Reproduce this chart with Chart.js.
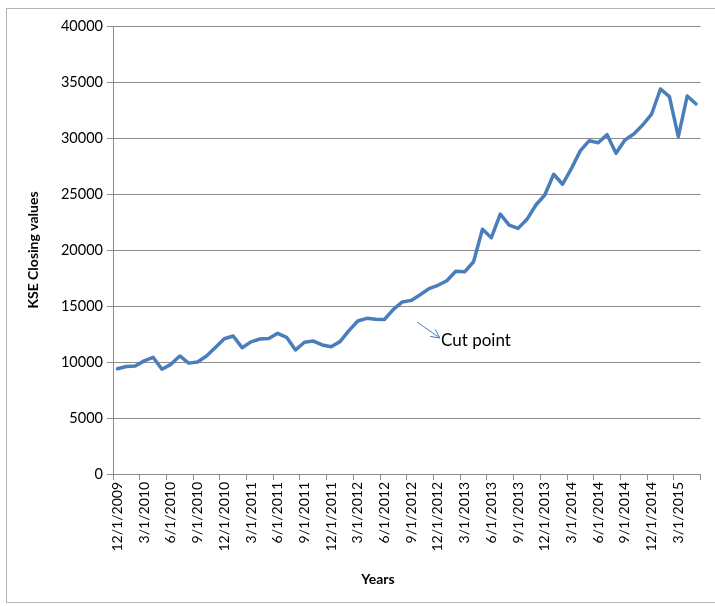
<!DOCTYPE html>
<html>
<head>
<meta charset="utf-8">
<script src="https://cdn.jsdelivr.net/npm/chart.js@4.4.1/dist/chart.umd.min.js"></script>
<style>
  html, body { margin: 0; padding: 0; background: #fff; }
  #wrap { position: relative; width: 715px; height: 606px; }
</style>
</head>
<body>
<div id="wrap"><canvas id="kse"></canvas></div>
<script>
const MONTHS = [
  '12/1/2009',
  '1/1/2010', '2/1/2010', '3/1/2010', '4/1/2010', '5/1/2010', '6/1/2010',
  '7/1/2010', '8/1/2010', '9/1/2010', '10/1/2010', '11/1/2010', '12/1/2010',
  '1/1/2011', '2/1/2011', '3/1/2011', '4/1/2011', '5/1/2011', '6/1/2011',
  '7/1/2011', '8/1/2011', '9/1/2011', '10/1/2011', '11/1/2011', '12/1/2011',
  '1/1/2012', '2/1/2012', '3/1/2012', '4/1/2012', '5/1/2012', '6/1/2012',
  '7/1/2012', '8/1/2012', '9/1/2012', '10/1/2012', '11/1/2012', '12/1/2012',
  '1/1/2013', '2/1/2013', '3/1/2013', '4/1/2013', '5/1/2013', '6/1/2013',
  '7/1/2013', '8/1/2013', '9/1/2013', '10/1/2013', '11/1/2013', '12/1/2013',
  '1/1/2014', '2/1/2014', '3/1/2014', '4/1/2014', '5/1/2014', '6/1/2014',
  '7/1/2014', '8/1/2014', '9/1/2014', '10/1/2014', '11/1/2014', '12/1/2014',
  '1/1/2015', '2/1/2015', '3/1/2015', '4/1/2015', '5/1/2015'
]

const CLOSING = [
  9400,
  9600, 9650, 10100, 10420, 9350, 9790,
  10540, 9900, 10000, 10540, 11300, 12080,
  12320, 11280, 11800, 12050, 12100, 12560,
  12200, 11070, 11760, 11870, 11520, 11370,
  11820, 12800, 13660, 13900, 13810, 13800,
  14700, 15360, 15500, 16000, 16550, 16850,
  17250, 18100, 18050, 18950, 21850, 21100,
  23200, 22230, 21930, 22740, 24020, 24910,
  26760, 25870, 27290, 28870, 29760, 29580,
  30300, 28630, 29820, 30360, 31160, 32140,
  34375, 33690, 30120, 33750, 33040
]

const Y_TICKS = [0, 5000, 10000, 15000, 20000, 25000, 30000, 35000, 40000]

const GRID = '#8c8c8c'
const LINE = '#4a7ebb'
const FONT = 'Lato, "Noto Sans", sans-serif'

// frame, the "Cut point" note and the x title
const extras = {
    id: 'extras',
    beforeDraw(chart) {
        const ctx = chart.ctx
        ctx.save()
        ctx.fillStyle = '#fff'
        ctx.fillRect(0, 0, chart.width, chart.height)
        ctx.strokeStyle = '#b4b4b4'
        ctx.lineWidth = 1
        ctx.strokeRect(6.5, 8.5, 720, 594)
        ctx.restore()
    },
    afterDraw(chart) {
        const ctx = chart.ctx
        ctx.save()
        // arrow
        const x1 = 417, y1 = 322, x2 = 440, y2 = 338
        const ang = Math.atan2(y2 - y1, x2 - x1)
        ctx.strokeStyle = LINE
        ctx.lineWidth = 1
        ctx.beginPath()
        ctx.moveTo(x1, y1)
        ctx.lineTo(x2, y2)
        ctx.moveTo(x2 - 10 * Math.cos(ang - 0.45), y2 - 10 * Math.sin(ang - 0.45))
        ctx.lineTo(x2, y2)
        ctx.lineTo(x2 - 10 * Math.cos(ang + 0.45), y2 - 10 * Math.sin(ang + 0.45))
        ctx.stroke()

        ctx.fillStyle = '#000'
        ctx.textBaseline = 'middle'
        ctx.textAlign = 'left'
        ctx.font = '17px ' + FONT
        ctx.fillText('Cut point', 441, 341)

        ctx.textAlign = 'center'
        ctx.font = 'bold 14px ' + FONT
        ctx.fillText('Years', 378, 579)
        ctx.restore()
    }
}

new Chart(document.getElementById('kse'), {
    type: 'line',
    data: {
        labels: MONTHS,
        datasets: [{
            label: 'KSE',
            data: CLOSING,
            borderColor: LINE,
            borderWidth: 3.5,
            borderJoinStyle: 'round',
            borderCapStyle: 'round',
            pointRadius: 0,
            tension: 0,
            fill: false
        }]
    },
    options: {
        responsive: true,
        maintainAspectRatio: false,
        animation: false,
        events: [],
        layout: {
            padding: { left: 0, top: 26, right: 11, bottom: 0 }
        },
        plugins: {
            legend: { display: false },
            tooltip: { enabled: false }
        },
        scales: {
            x: {
                offset: true,
                afterFit: s => { s.height = 132 },
                grid: {
                    offset: true,
                    drawOnChartArea: false,
                    drawTicks: true,
                    tickLength: 6,
                    color: c => (c.type !== 'tick' || c.index % 3 === 0) ? GRID : 'rgba(0,0,0,0)'
                },
                border: { display: true, color: GRID, width: 1 },
                ticks: {
                    autoSkip: false,
                    minRotation: 90,
                    maxRotation: 90,
                    padding: 2,
                    color: '#000',
                    font: { family: FONT, size: 14 },
                    callback: function (v, i) { return i % 3 === 0 ? MONTHS[i] : '' }
                }
            },
            y: {
                min: 0,
                max: 40000,
                afterFit: s => { s.width = 113 },
                afterBuildTicks: s => { s.ticks = Y_TICKS.map(v => ({ value: v })) },
                grid: {
                    color: GRID,
                    drawTicks: true,
                    tickLength: 6
                },
                border: { display: true, color: GRID, width: 1 },
                ticks: {
                    padding: 4,
                    color: '#000',
                    font: { family: FONT, size: 14.5 },
                    callback: v => String(v)
                },
                title: {
                    display: true,
                    text: 'KSE Closing values',
                    color: '#000',
                    font: { family: FONT, size: 14, weight: 'bold' },
                    padding: { top: 25, bottom: 0 }
                }
            }
        }
    },
    plugins: [extras]
});
</script>
</body>
</html>
